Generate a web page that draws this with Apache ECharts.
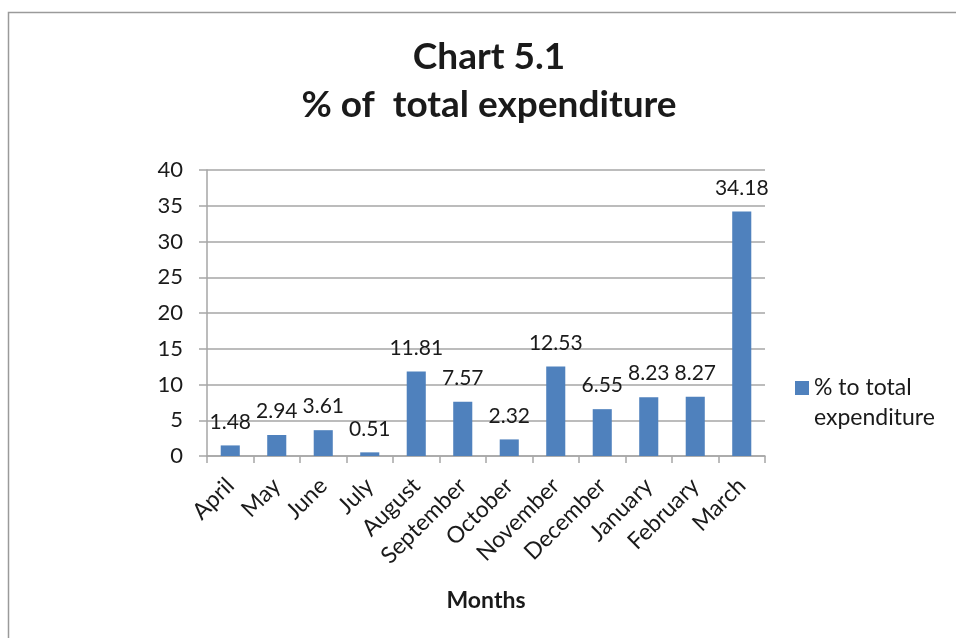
<!DOCTYPE html>
<html>
<head>
<meta charset="utf-8">
<title>Chart 5.1</title>
<script src="https://cdn.jsdelivr.net/npm/echarts@6/dist/echarts.min.js"></script>
<style>
  html, body { margin: 0; padding: 0; background: #ffffff; }
  #chart { width: 956px; height: 638px; }
</style>
</head>
<body>
<div id="chart"></div>
<script>
// Monthly share of total expenditure (%)
const months = ['April', 'May', 'June', 'July', 'August', 'September', 'October',
  'November', 'December', 'January', 'February', 'March'];
const shareOfExpenditure = [1.48, 2.94, 3.61, 0.51, 11.81, 7.57, 2.32, 12.53, 6.55, 8.23, 8.27, 34.18];
const seriesName = '% to total expenditure';
const titleLines = ['Chart 5.1', '% of  total expenditure'];
const xAxisTitle = 'Months';

const FONT = 'Lato, "Open Sans", sans-serif';
const TEXT = '#1a1a1a';
const GRID = '#a6a6a6';

const chart = echarts.init(document.getElementById('chart'));
chart.setOption({
  animation: false,
  textStyle: { fontFamily: FONT },
  graphic: [{
    type: 'rect',
    shape: { x: 8.5, y: 12.5, width: 1000, height: 700 },
    style: { fill: 'none', stroke: '#9a9a9a', lineWidth: 1.5 },
    silent: true
  }],
  title: {
    text: titleLines.join('\n'),
    left: 484,
    top: 28,
    textAlign: 'center',
    textStyle: {
      fontFamily: FONT,
      fontSize: 37,
      fontWeight: 'bold',
      color: TEXT,
      lineHeight: 48
    }
  },
  legend: {
    left: 790,
    top: 338,
    orient: 'vertical',
    itemWidth: 14,
    itemHeight: 14,
    icon: 'rect',
    // wrap the series name onto two lines; the leading blank line keeps the
    // swatch level with the first line of text
    formatter: name => '\n' + name.replace('total ', 'total\n'),
    textStyle: {
      fontFamily: FONT,
      fontSize: 23,
      color: TEXT,
      lineHeight: 30
    }
  },
  grid: { left: 207, right: 191, top: 170, bottom: 182 },
  xAxis: {
    type: 'category',
    data: months,
    name: xAxisTitle,
    nameLocation: 'middle',
    nameGap: 133,
    nameTextStyle: { fontFamily: FONT, fontSize: 23, fontWeight: 'bold', color: TEXT },
    axisLine: { lineStyle: { color: GRID, width: 1.5 } },
    axisTick: { show: true, length: 7, lineStyle: { color: GRID, width: 1.5 } },
    axisLabel: {
      rotate: 45,
      interval: 0,
      margin: 26,
      fontFamily: FONT,
      fontSize: 23,
      color: TEXT
    }
  },
  yAxis: {
    type: 'value',
    min: 0,
    max: 40,
    interval: 5,
    axisLine: { show: true, lineStyle: { color: GRID, width: 1.5 } },
    axisTick: { show: true, length: 8, lineStyle: { color: GRID, width: 1.5 } },
    splitLine: { lineStyle: { color: GRID, width: 1.5 } },
    axisLabel: { margin: 24, fontFamily: FONT, fontSize: 22, color: TEXT }
  },
  series: [{
    name: seriesName,
    type: 'bar',
    data: shareOfExpenditure,
    barWidth: '41%',
    itemStyle: { color: '#4f81bd' },
    label: {
      show: true,
      position: 'top',
      distance: 13,
      fontFamily: FONT,
      fontSize: 21,
      color: TEXT
    }
  }]
});
</script>
</body>
</html>
